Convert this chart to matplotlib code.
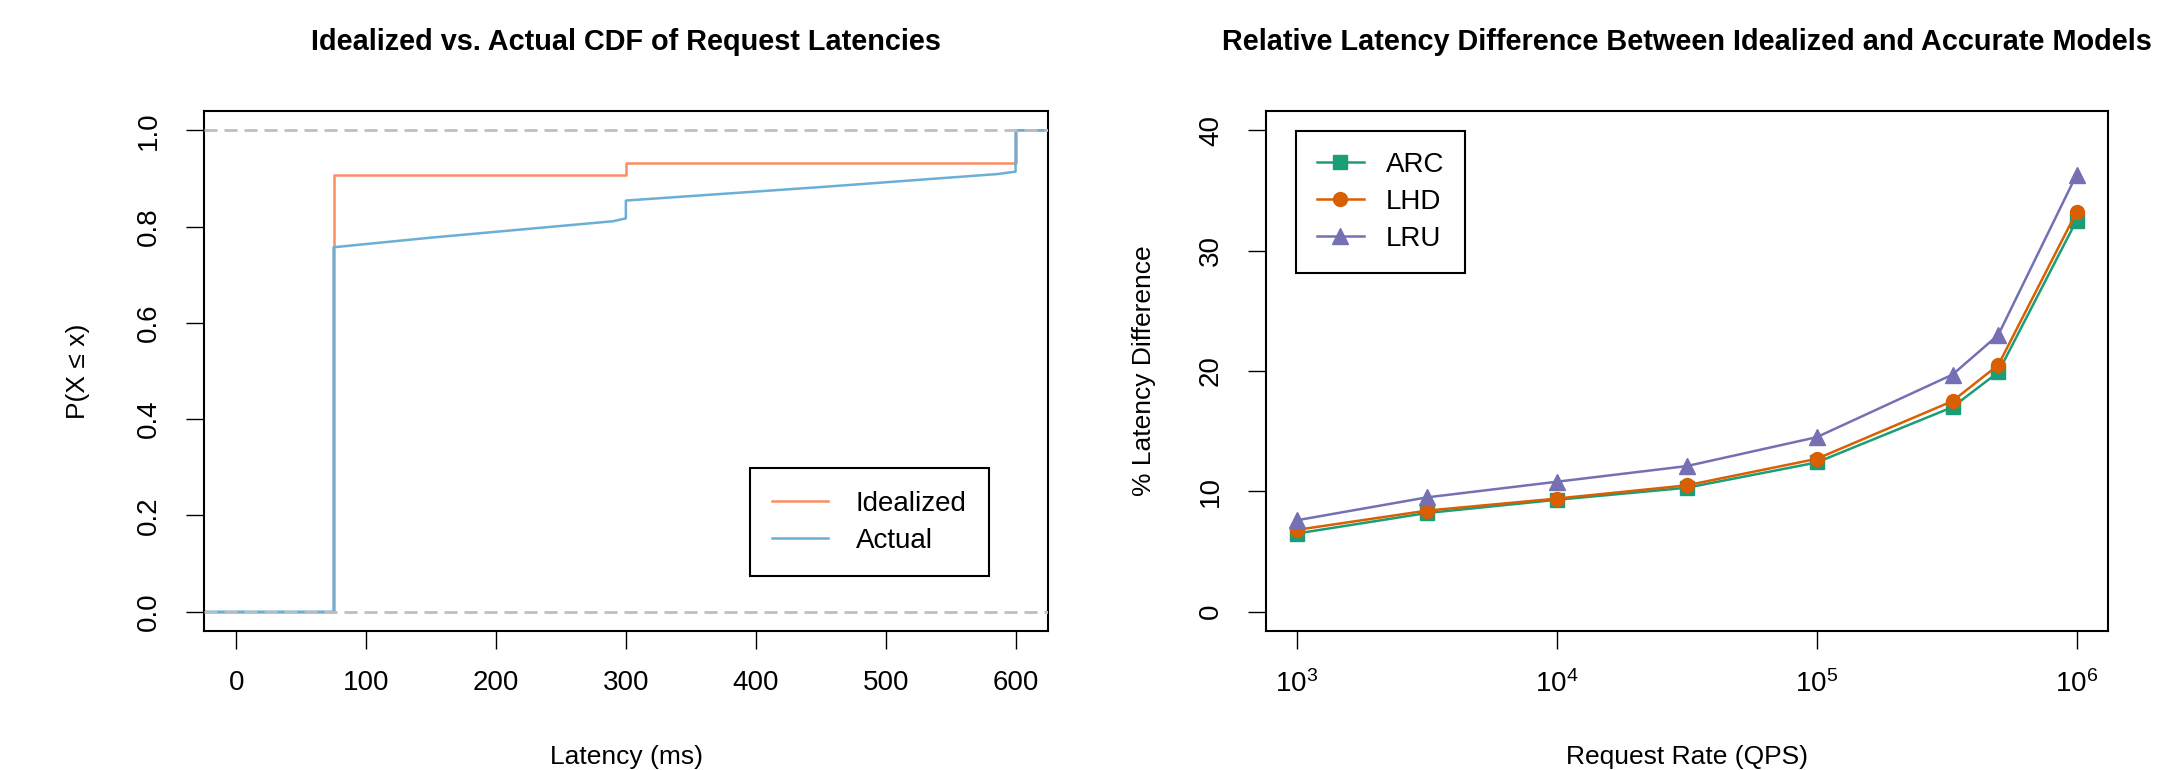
import matplotlib
matplotlib.use("Agg")
import matplotlib.pyplot as plt

plt.rcParams['font.family'] = ['Liberation Sans', 'DejaVu Sans']
plt.rcParams['mathtext.fontset'] = 'custom'
plt.rcParams['mathtext.rm'] = 'Liberation Sans'
plt.rcParams['mathtext.it'] = 'Liberation Sans'

# left panel: step CDFs (latency ms, P(X <= x))
ideal_x = [-25, 75, 75, 300, 300, 600, 600, 625]
ideal_y = [0, 0, 0.907, 0.907, 0.931, 0.931, 1.0, 1.0]
actual_x = [-25, 75, 75, 150, 290, 300, 300, 450, 586, 600, 600, 625]
actual_y = [0, 0, 0.757, 0.777, 0.811, 0.817, 0.854, 0.882, 0.909, 0.914, 1.0, 1.0]
lat_ticks = [0, 100, 200, 300, 400, 500, 600]
p_ticks = [0.0, 0.2, 0.4, 0.6, 0.8, 1.0]

# right panel: relative latency difference
qps = [1e3, 3162, 1e4, 31623, 1e5, 333333, 5e5, 1e6]
arc = [6.5, 8.2, 9.3, 10.3, 12.4, 17.0, 19.9, 32.5]
lhd = [6.8, 8.4, 9.4, 10.5, 12.7, 17.5, 20.5, 33.2]
lru = [7.6, 9.5, 10.8, 12.1, 14.5, 19.7, 23.0, 36.3]
qps_ticks = [1e3, 1e4, 1e5, 1e6]
qps_labels = ['$10^{3}$', '$10^{4}$', '$10^{5}$', '$10^{6}$']
pct_ticks = [0, 10, 20, 30, 40]

W, H = 2157, 770
fig = plt.figure(figsize=(W / 100, H / 100), dpi=100)

def box(x0, x1, y0, y1):
    return [x0 / W, (H - y1) / H, (x1 - x0) / W, (y1 - y0) / H]

ax1 = fig.add_axes(box(203.7, 1048, 111, 631))
ax2 = fig.add_axes(box(1265.7, 2107.7, 111, 631))

for ax in (ax1, ax2):
    for s in ax.spines.values():
        s.set_linewidth(1.5)
    ax.tick_params(length=13, width=1, labelsize=20, pad=15)
    ax.tick_params(axis='y', labelrotation=90, pad=17)

# left
ax1.plot(ideal_x, ideal_y, color='#FC8D62', lw=1.8, label='Idealized')
ax1.plot(actual_x, actual_y, color='#6BAED6', lw=1.8, label='Actual')
for h in (0, 1):
    ax1.axhline(h, color='#BEBEBE', lw=2.0, dashes=(4.7, 2.5), zorder=3)
ax1.set_xlim(-25, 625)
ax1.set_ylim(-0.04, 1.04)
ax1.set_xticks(lat_ticks)
ax1.set_yticks(p_ticks)
ax1.set_yticklabels([f'{v:.1f}' for v in p_ticks], va='center')
ax1.set_title('Idealized vs. Actual CDF of Request Latencies',
              fontsize=20.8, fontweight='bold', pad=44)
leg1 = ax1.legend(loc='lower right', bbox_to_anchor=(0.9298, 0.1058), fontsize=20,
                  frameon=True, fancybox=False, edgecolor='black', framealpha=1,
                  handlelength=2.0, handletextpad=1.0, labelspacing=0.4,
                  borderpad=0.8, borderaxespad=0)
leg1.get_frame().set_linewidth(1.5)

# right
ax2.plot(qps, arc, color='#1B9E77', lw=1.8, marker='s', ms=10.5, label='ARC')
ax2.plot(qps, lhd, color='#D95F02', lw=1.8, marker='o', ms=10, label='LHD')
ax2.plot(qps, lru, color='#7570B3', lw=1.8, marker='^', ms=12, label='LRU')
ax2.set_xscale('log')
ax2.set_xlim(10 ** 2.88, 10 ** 6.12)
ax2.set_ylim(-1.6, 41.6)
ax2.set_xticks(qps_ticks)
ax2.set_xticklabels(qps_labels)
ax2.minorticks_off()
ax2.set_yticks(pct_ticks)
ax2.set_yticklabels([str(v) for v in pct_ticks], va='center')
ax2.set_title('Relative Latency Difference Between Idealized and Accurate Models',
              fontsize=20.8, fontweight='bold', pad=44)
leg2 = ax2.legend(loc='upper left', bbox_to_anchor=(0.0356, 0.962), fontsize=20,
                  frameon=True, fancybox=False, edgecolor='black', framealpha=1,
                  handlelength=1.7, handletextpad=0.8, labelspacing=0.4,
                  borderpad=0.75, borderaxespad=0)
leg2.get_frame().set_linewidth(1.5)

# axis labels
fig.text(626 / W, 1 - 764 / H, 'Latency (ms)', fontsize=19, ha='center', va='baseline')
fig.text(1686.7 / W, 1 - 764 / H, 'Request Rate (QPS)', fontsize=19, ha='center', va='baseline')
fig.text(78 / W, 1 - 371 / H, 'P(X ≤ x)', fontsize=19, rotation=90, ha='center', va='center')
fig.text(1144 / W, 1 - 371 / H, '% Latency Difference', fontsize=19, rotation=90, ha='center', va='center')

fig.savefig('out.png', dpi=100)
